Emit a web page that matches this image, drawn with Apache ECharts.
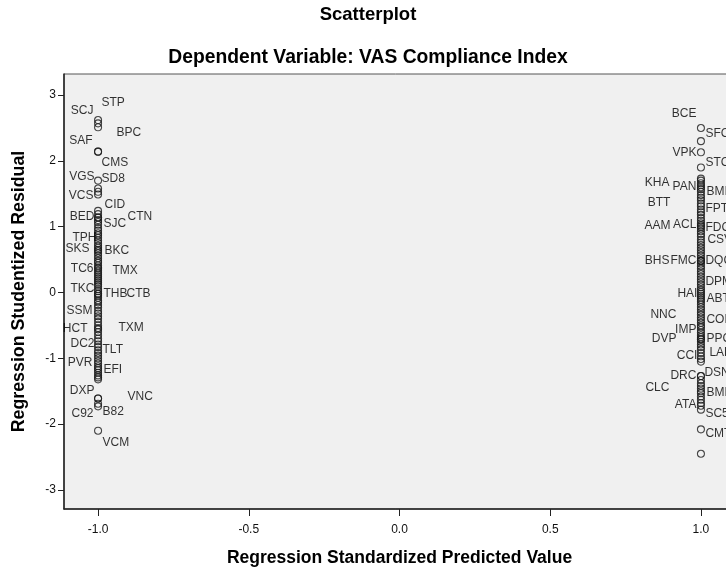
<!DOCTYPE html>
<html>
<head>
<meta charset="utf-8">
<script src="https://cdn.jsdelivr.net/npm/echarts@6/dist/echarts.min.js"></script>
<style>
  html, body { margin: 0; padding: 0; background: #ffffff; }
  #chart { width: 726px; height: 571px; }
</style>
</head>
<body>
<div id="chart"></div>
<script>
// ---------- data ----------
const xTickValues = [-1, -0.5, 0, 0.5, 1];
const yTickValues = [-3, -2, -1, 0, 1, 2, 3];

const leftPredicted = -1.0;
const rightPredicted = 1.0;

// labelled cases, predicted value = -1.0
const leftNames = ['STP','SCJ','BPC','SAF','CMS','VGS','SD8','CID','VCS',
  'BED','SJC','CTN','TPH','SKS','BKC','TC6','TMX','TKC','THB','CTB','SSM',
  'HCT','TXM','DC2','TLT','PVR','EFI','DXP','VNC','C92','B82','VCM'];
const leftResiduals = [2.62, 2.57, 2.51, 2.14, 2.14, 1.70, 1.58, 1.53, 1.49,
  1.14, 1.03, 1.14, 0.83, 0.65, 0.63, 0.36, 0.33, 0.05, -0.02, -0.02, -0.28,
  -0.56, -0.54, -0.79, -0.88, -1.08, -1.18, -1.61, -1.61, -1.69, -1.73, -2.10];
// unlabelled cases, predicted value = -1.0
const leftOtherResiduals = [1.24, 1.19, 1.10, 1.07, 0.98, 0.94, 0.90, 0.87, 0.79,
  0.75, 0.71, 0.68, 0.60, 0.56, 0.52, 0.48, 0.45, 0.41, 0.38, 0.30, 0.27, 0.24,
  0.21, 0.18, 0.15, 0.12, 0.09, 0.02, -0.05, -0.08, -0.12, -0.15, -0.19, -0.23,
  -0.32, -0.36, -0.40, -0.45, -0.50, -0.60, -0.65, -0.70, -0.74, -0.83, -0.92,
  -0.96, -1.00, -1.04, -1.12, -1.15, -1.22, -1.26, -1.29, -1.32];

// labelled cases, predicted value = 1.0
const rightNames = ['BCE','SFC','VPK','STC','KHA','PAN','BMI','BTT','FPT','AAM',
  'ACL','FDC','CSV','BHS','FMC','DQC','DPM','HAI','ABT','NNC','COM','IMP','DVP',
  'PPC','CCI','LAF','DRC','DSN','CLC','BMP','ATA','SC5','CMT'];
const rightResiduals = [2.50, 2.30, 2.13, 1.90, 1.66, 1.60, 1.53, 1.35, 1.26, 1.00,
  1.02, 0.97, 0.80, 0.48, 0.48, 0.48, 0.16, -0.02, -0.11, -0.34, -0.42, -0.57, -0.71,
  -0.71, -0.97, -0.92, -1.27, -1.27, -1.46, -1.53, -1.72, -1.78, -2.08];
// unlabelled cases, predicted value = 1.0
const rightOtherResiduals = [1.73, 1.70, 1.63, 1.57, 1.48, 1.44, 1.40, 1.31, 1.22,
  1.18, 1.13, 1.09, 1.05, 0.93, 0.89, 0.85, 0.76, 0.72, 0.68, 0.64, 0.60, 0.56, 0.52,
  0.44, 0.40, 0.36, 0.32, 0.28, 0.24, 0.20, 0.12, 0.08, 0.04, 0.01, -0.05, -0.08,
  -0.14, -0.18, -0.22, -0.26, -0.30, -0.38, -0.46, -0.50, -0.53, -0.61, -0.65, -0.68,
  -0.75, -0.79, -0.83, -0.87, -1.01, -1.05, -1.33, -1.38, -1.42, -1.50, -1.58, -1.63,
  -1.68, -2.45];

// ---------- label placement (style, px offsets from the point centre) ----------
const labelOffsets = {
  STP:[4,-17], SCJ:[-4,-12], BPC:[19,6], SAF:[-5,-10], CMS:[4,12], VGS:[-3,-3],
  SD8:[4,-9], CID:[7,13], VCS:[-4,2], BED:[-3,0], SJC:[6,0], CTN:[30,0], TPH:[-1,0],
  SKS:[-8,0], BKC:[7,0], TC6:[-4,0], TMX:[15,0], TKC:[-3,0], THB:[6,0], CTB:[29,0],
  SSM:[-5,0], HCT:[-10,0], TXM:[21,0], DC2:[-3,0], TLT:[5,0], PVR:[-5,0], EFI:[6,0],
  DXP:[-3,-7], VNC:[30,-1], C92:[-4,11], B82:[5,6], VCM:[5,13],
  BCE:[-4,-14], SFC:[5,-7], VPK:[-4,1], STC:[5,-4], KHA:[-31,0], PAN:[-4,0], BMI:[6,0],
  BTT:[-30,0], FPT:[5,0], AAM:[-30,0], ACL:[-4,0], FDC:[5,0], CSV:[7,0], BHS:[-31,0],
  FMC:[-4,0], DQC:[5,0], DPM:[5,0], HAI:[-3,0], ABT:[6,0], NNC:[-24,0], COM:[6,0],
  IMP:[-4,0], DVP:[-24,0], PPC:[6,0], CCI:[-3,0], LAF:[9,0], DRC:[-4,0], DSN:[4,-3],
  CLC:[-31,0], BMP:[6,0], ATA:[-4,0], SC5:[5,5], CMT:[5,5]
};

const FONT = '"Liberation Sans", Arial, sans-serif';
const SYMBOL_SIZE = 7;

function labelled(names, residuals, predicted) {
  return names.map((n, i) => {
    const off = labelOffsets[n] || [5, 0];
    return {
      name: n,
      value: [predicted, residuals[i]],
      label: {
        show: true,
        position: [SYMBOL_SIZE / 2 + off[0], SYMBOL_SIZE / 2 + off[1]],
        align: off[0] < 0 ? 'right' : 'left',
        verticalAlign: 'middle',
        formatter: n,
        color: '#000',
        fontSize: 12,
        fontFamily: FONT
      }
    };
  });
}
function plain(residuals, predicted) {
  return residuals.map(r => ({ value: [predicted, r] }));
}

const seriesData = [].concat(
  plain(leftOtherResiduals, leftPredicted),
  plain(rightOtherResiduals, rightPredicted),
  labelled(leftNames, leftResiduals, leftPredicted),
  labelled(rightNames, rightResiduals, rightPredicted)
);

const chart = echarts.init(document.getElementById('chart'), null, { renderer: 'canvas' });
chart.setOption({
  animation: false,
  backgroundColor: '#ffffff',
  graphic: [
    { type: 'text', x: 368, y: 15, silent: true,
      style: { text: 'Scatterplot', align: 'center', verticalAlign: 'middle',
               font: 'bold 18.5px ' + FONT, fill: '#000' } },
    { type: 'text', x: 368, y: 58, silent: true,
      style: { text: 'Dependent Variable: VAS Compliance Index', align: 'center', verticalAlign: 'middle',
               font: 'bold 19.3px ' + FONT, fill: '#000' } }
  ],
  grid: {
    left: 64, top: 74, right: -9, bottom: 62,
    containLabel: false, outerBoundsMode: 'none',
    show: true, backgroundColor: '#f0f0f0', borderColor: '#555', borderWidth: 1
  },
  xAxis: {
    type: 'value', min: -1.113, max: 1.113,
    name: 'Regression Standardized Predicted Value',
    nameLocation: 'middle', nameGap: 40,
    nameTextStyle: { fontSize: 17.5, fontWeight: 'bold', color: '#000', fontFamily: FONT },
    splitLine: { show: false },
    axisLine: { show: true, onZero: false, lineStyle: { color: '#222', width: 1.5 } },
    axisTick: { show: true, inside: false, length: 7, customValues: xTickValues,
                lineStyle: { color: '#222', width: 1 } },
    axisLabel: { show: true, customValues: xTickValues, margin: 15, fontSize: 12, color: '#111',
                 fontFamily: FONT, formatter: v => v.toFixed(1) }
  },
  yAxis: {
    type: 'value', min: -3.29, max: 3.32,
    name: 'Regression Studentized Residual',
    nameLocation: 'middle', nameGap: 36,
    nameTextStyle: { fontSize: 17.8, fontWeight: 'bold', color: '#000', fontFamily: FONT },
    splitLine: { show: false },
    axisLine: { show: true, onZero: false, lineStyle: { color: '#222', width: 1.5 } },
    axisTick: { show: true, inside: false, length: 6, customValues: yTickValues,
                lineStyle: { color: '#222', width: 1 } },
    axisLabel: { show: true, customValues: yTickValues, margin: 8, fontSize: 12, color: '#111',
                 fontFamily: FONT, formatter: v => String(v) }
  },
  series: [{
    type: 'scatter',
    silent: true,
    symbol: 'circle',
    symbolSize: SYMBOL_SIZE,
    itemStyle: { color: 'rgba(0,0,0,0)', borderColor: '#1a1a1a', borderWidth: 1.1 },
    emphasis: { disabled: true },
    labelLayout: { hideOverlap: false },
    data: seriesData
  }]
});
</script>
</body>
</html>
